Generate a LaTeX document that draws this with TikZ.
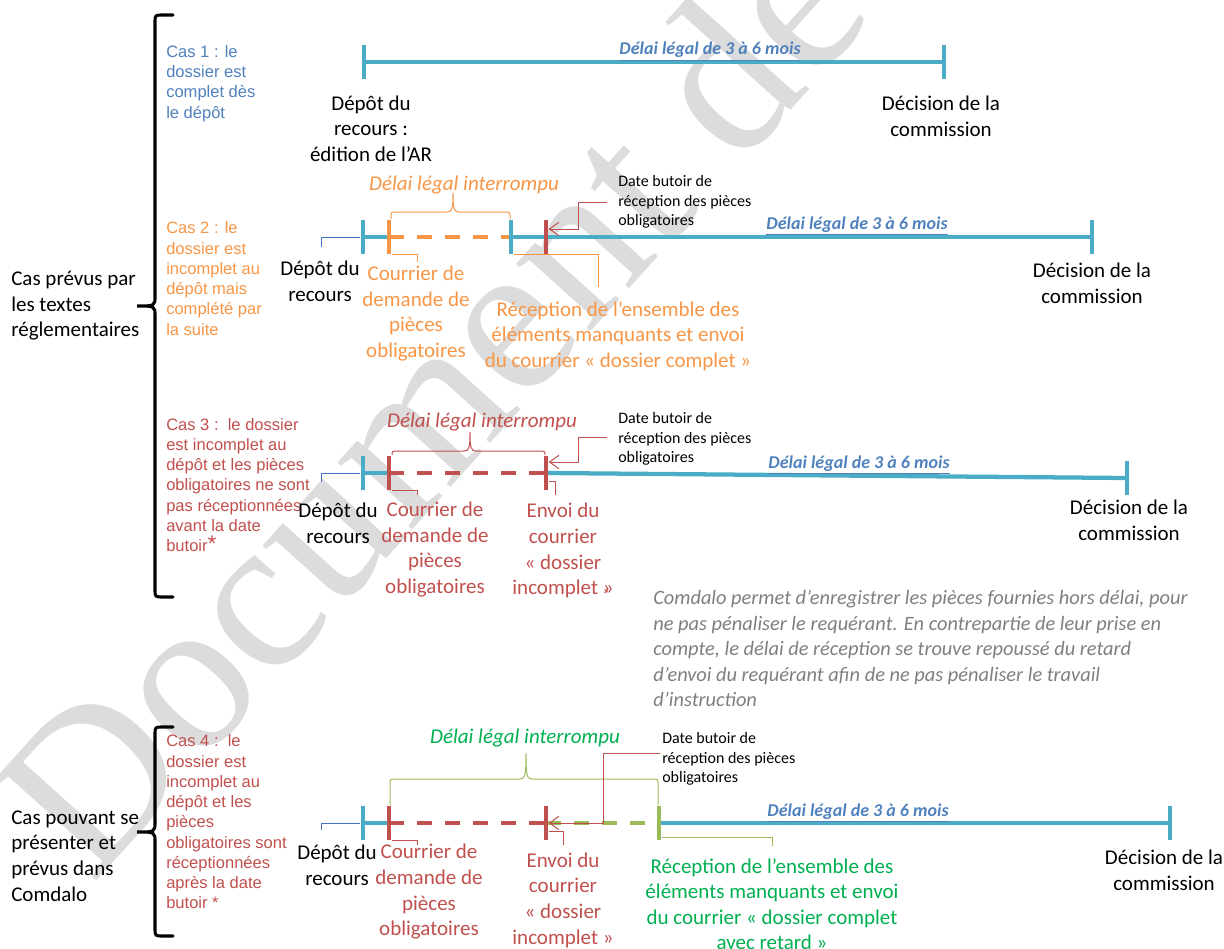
\documentclass[tikz,border=0pt]{standalone}
\usepackage{fontspec}
\setmainfont{Carlito}
\newfontfamily\arialf{Liberation Sans}
\newfontfamily\wmf{Liberation Serif}
\usetikzlibrary{arrows.meta}
\definecolor{teal1}{HTML}{4BACC6}
\definecolor{orng}{HTML}{F79646}
\definecolor{redc}{HTML}{C0504D}
\definecolor{bluec}{HTML}{4F81BD}
\definecolor{greent}{HTML}{00B050}
\definecolor{greenl}{HTML}{9BBB59}
\definecolor{thinblue}{HTML}{4472C4}
\definecolor{graytxt}{HTML}{7F7F7F}
\definecolor{wmgray}{HTML}{DCDCDC}
\tikzset{
 tl/.style={line width=3.2pt, draw=teal1},
 dsh/.style={line width=3.2pt, dash pattern=on 11.25pt off 9.75pt},
 tk/.style={rectangle, inner sep=0, minimum width=3.6pt, minimum height=26pt, draw=none},
 co/.style={line width=0.75pt},
 lbl/.style={inner sep=0, align=center, font=\fontsize{15.75pt}{19.2pt}\selectfont},
 smalltxt/.style={inner sep=0, align=left, anchor=west, font=\fontsize{12pt}{14.6pt}\selectfont},
 cas/.style={inner sep=0, align=left, anchor=west, font=\arialf\fontsize{12.4pt}{15.2pt}\selectfont},
 dl/.style={inner sep=0, anchor=base, text=bluec, font=\fontsize{13.5pt}{16pt}\selectfont\bfseries\itshape},
 interr/.style={inner sep=0, font=\fontsize{15.75pt}{19pt}\selectfont\itshape},
 arr/.style={-{Straight Barb[length=7pt,width=10pt]}},
 bigbrace/.style={line width=2.3pt, line cap=round},
}
% #1 colour, #2 x left, #3 x right, #4 x tip, #5 y end, #6 y bar, #7 y tip
\newcommand\mybrace[7]{\draw[co, #1] (#2,#5) -- (#2,#6+4) .. controls (#2,#6) .. (#2+7,#6) -- (#4-6,#6) .. controls (#4-1,#6) and (#4,#6-3) .. (#4,#7) .. controls (#4,#6-3) and (#4+1,#6) .. (#4+6,#6) -- (#3-7,#6) .. controls (#3,#6) .. (#3,#6+4) -- (#3,#5);}
\begin{document}
\begin{tikzpicture}[x=0.75pt,y=-0.75pt]
\useasboundingbox (0,0) rectangle (1224,949);
\begin{scope}
\clip (0,0) rectangle (1224,949);
\node[rotate=48, anchor=base west, inner sep=0, text=wmgray, font=\wmf\fontsize{164pt}{164pt}\selectfont] (wm) at (92,886) {Document de t};
\end{scope}

% big braces
\draw[bigbrace] (173,15) -- (163,15) .. controls (155,15) .. (155,23) -- (155,296) .. controls (155,306) .. (137,306) .. controls (155,306) .. (155,316) -- (155,589) .. controls (155,597) .. (163,597) -- (173,597);
\draw[bigbrace] (173,727) -- (163,727) .. controls (155,727) .. (155,735) -- (155,822) .. controls (155,832) .. (137,832) .. controls (155,832) .. (155,842) -- (155,928) .. controls (155,936) .. (163,936) -- (173,936);

\node[lbl, align=left, anchor=west] (cp1) at (11,306) {Cas prévus par\\les textes\\réglementaires};
\node[lbl, align=left, anchor=west] (cp2) at (11,856) {Cas pouvant se\\présenter et\\prévus dans\\Comdalo};

\node[cas, text=bluec] (cas1) at (166,83.5) {Cas 1 : le\\dossier est\\complet dès\\le dépôt};
\node[cas, text=orng] (cas2) at (166,278.5) {Cas 2 : le\\dossier est\\incomplet au\\dépôt mais\\complété par\\la suite};
\node[cas, text=redc] (cas3) at (166,485) {Cas 3 :\ \ le dossier\\est incomplet au\\dépôt et les pièces\\obligatoires ne sont\\pas réceptionnées\\avant la date\\butoir{\fontsize{17pt}{15.2pt}\selectfont *}};
\node[cas, text=redc] (cas4) at (166,822) {Cas 4 :\ \ le\\dossier est\\incomplet au\\dépôt et les\\pièces\\obligatoires sont\\réceptionnées\\après la date\\butoir *};

% ---------- Timeline 1
\coordinate (c1a) at (364,62); \coordinate (c1b) at (944,62);
\draw[tl] (c1a) -- (c1b);
\node[tk, fill=teal1] (k1a) at (c1a) {};
\node[tk, fill=teal1] (k1b) at (c1b) {};
\node[dl] (dl1) at (710,55) {\underline{Délai légal de 3 à 6 mois}};
\node[lbl] (dep1) at (371,128.5) {Dépôt du\\recours :\\édition de l’AR};
\node[lbl] (dec1) at (941,116.5) {Décision de la\\commission};

% ---------- Timeline 2
\coordinate (c2a) at (363,237); \coordinate (c2b) at (389,237);
\coordinate (c2c) at (511,237); \coordinate (c2d) at (546,237);
\coordinate (c2e) at (1092,237);
\draw[tl] (c2a) -- (c2b);
\draw[dsh, orng] (c2b) -- (c2c);
\draw[tl] (c2c) -- (c2e);
\node[tk, fill=teal1] (k2a) at (c2a) {};
\node[tk, fill=orng] (k2b) at (c2b) {};
\node[tk, fill=teal1] (k2c) at (c2c) {};
\node[tk, fill=redc] (k2d) at (c2d) {};
\node[tk, fill=teal1] (k2e) at (c2e) {};
\mybrace{orng}{391}{510}{453}{219}{212}{193}
\node[interr, text=orng] (di2) at (464,185) {Délai légal interrompu};
\node[smalltxt] (db2) at (618,202) {Date butoir de\\réception des pièces\\obligatoires};
\coordinate (b2) at (578,229);
\draw[co, redc, arr] ([xshift=-8.25pt]db2.west) -| (b2) -- (b2 -| k2d.east);
\node[dl] (dl2) at (857,229) {\underline{Délai légal de 3 à 6 mois}};
\node[lbl] (dec2) at (1092,283.5) {Décision de la\\commission};
\node[lbl] (dep2) at (320,281.5) {Dépôt du\\recours};
\coordinate (d2) at (321,247);
\draw[co, thinblue] (d2) |- (k2a.west);
\node[lbl, text=orng] (cr2) at (416,313.5) {Courrier de\\demande de\\pièces\\obligatoires};
\coordinate (e2c) at (417,262);
\draw[co, orng] (k2b.south east) -| (e2c);
\coordinate (e2r) at (598,287);
\draw[co, orng] (k2c.south east) -| (e2r);
\node[lbl, text=orng] (rc2) at (618,336) {Réception de l’ensemble des\\éléments manquants et envoi\\du courrier «~dossier complet~»};

% ---------- Timeline 3
\coordinate (c3a) at (363,473); \coordinate (c3b) at (389,473);
\coordinate (c3d) at (546,473); \coordinate (c3e) at (1127,478);
\draw[tl] (c3a) -- (c3b);
\draw[dsh, redc] (c3b) -- (c3d);
\draw[tl] (c3d) -- (c3e);
\node[tk, fill=teal1] (k3a) at (c3a) {};
\node[tk, fill=redc] (k3b) at (c3b) {};
\node[tk, fill=redc] (k3d) at (c3d) {};
\node[tk, fill=teal1] (k3e) at (c3e) {};
\mybrace{redc}{392}{545}{470}{455}{451}{432}
\node[interr, text=redc] (di3) at (482,422) {Délai légal interrompu};
\node[smalltxt] (db3) at (618,439) {Date butoir de\\réception des pièces\\obligatoires};
\coordinate (b3) at (578,462);
\draw[co, redc, arr] ([xshift=-8.25pt, yshift=1.5pt]db3.west) -| (b3) -- (b3 -| k3d.east);
\node[dl] (dl3) at (859,468) {\underline{Délai légal de 3 à 6 mois}};
\node[lbl] (dec3) at (1129,520) {Décision de la\\commission};
\node[lbl] (dep3) at (338,523.5) {Dépôt du\\recours};
\coordinate (d3) at (321,482);
\draw[co, thinblue] (d3) |- (k3a.west);
\node[lbl, text=redc] (cr3) at (435,549.5) {Courrier de\\demande de\\pièces\\obligatoires};
\coordinate (e3c) at (417,495);
\draw[co, redc] (k3b.south east) -| (e3c);
\node[lbl, text=redc] (en3) at (563,550.75) {Envoi du\\courrier\\«~dossier\\incomplet~»};
\coordinate (e3e) at (555,495);
\draw[co, redc] ([yshift=-6pt]k3d.east) -| (e3e);

% ---------- Comdalo note
\node[inner sep=0, text=redc, font=\fontsize{9pt}{9pt}\selectfont] (bul) at (606,592) {»};
\node[inner sep=0, anchor=west, align=left, text=graytxt, font=\fontsize{15.3pt}{19.1pt}\selectfont\itshape] (note) at (653,648.6) {Comdalo permet d’enregistrer les pièces fournies hors délai, pour\\ne pas pénaliser le requérant. En contrepartie de leur prise en\\compte, le délai de réception se trouve repoussé du retard\\d’envoi du requérant afin de ne pas pénaliser le travail\\d’instruction};

% ---------- Timeline 4
\coordinate (c4a) at (363,823); \coordinate (c4b) at (389,823);
\coordinate (c4d) at (546,823); \coordinate (c4f) at (659,823);
\coordinate (c4e) at (1170,823);
\draw[tl] (c4a) -- (c4b);
\draw[dsh, redc] (c4b) -- (c4d);
\draw[dsh, greenl] (c4d) -- (c4f);
\draw[tl] (c4f) -- (c4e);
\node[tk, fill=teal1] (k4a) at (c4a) {};
\node[tk, fill=redc] (k4b) at (c4b) {};
\node[tk, fill=redc] (k4d) at (c4d) {};
\node[tk, fill=greenl] (k4f) at (c4f) {};
\node[tk, fill=teal1] (k4e) at (c4e) {};
\mybrace{greenl}{390}{658}{526}{805}{779}{753}
\node[interr, text=greent] (di4) at (525,738) {Délai légal interrompu};
\node[smalltxt] (db4) at (662,759) {Date butoir de\\réception des pièces\\obligatoires};
\coordinate (b4) at (603,823);
\draw[co, redc, arr] ([xshift=-1.5pt, yshift=4.5pt]db4.west) -| (b4) -- (b4 -| k4d.east);
\node[dl] (dl4) at (858,816) {\underline{Délai légal de 3 à 6 mois}};
\node[lbl] (dec4) at (1164,870) {Décision de la\\commission};
\node[lbl] (dep4) at (337,865) {Dépôt du\\recours};
\coordinate (d4) at (321,830);
\draw[co, thinblue] (d4) |- (k4a.west);
\node[lbl, text=redc] (cr4) at (429,891.75) {Courrier de\\demande de\\pièces\\obligatoires};
\coordinate (e4c) at (417,845);
\draw[co, redc] (k4b.south east) -| (e4c);
\node[lbl, text=redc] (en4) at (563,900) {Envoi du\\courrier\\«~dossier\\incomplet~»};
\coordinate (e4e) at (563,845);
\draw[co, redc] ([yshift=-6pt]k4d.east) -| (e4e);
\coordinate (e4g) at (772,846);
\draw[co, greenl] ([yshift=2pt]k4f.south east) -| (e4g);
\node[lbl, text=greent] (rc4) at (772,904.25) {Réception de l’ensemble des\\éléments manquants et envoi\\du courrier «~dossier complet\\avec retard~»};
\end{tikzpicture}
\end{document}
